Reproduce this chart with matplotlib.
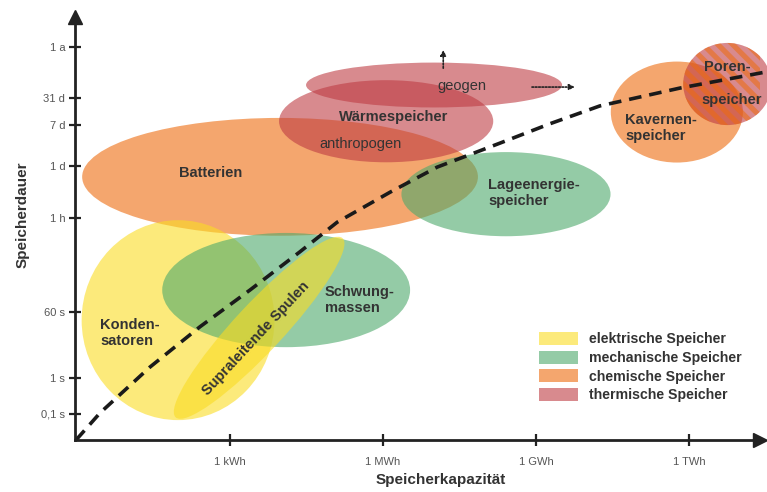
import matplotlib
matplotlib.use("Agg")
import numpy as np
import matplotlib.pyplot as plt
from matplotlib.patches import Ellipse, Patch

plt.rcParams["font.family"] = ["Liberation Sans", "DejaVu Sans"]

# x: log10 of capacity in Wh, y: position on the (non-uniform) duration axis
x_ticks = [3, 6, 9, 12]
x_labels = ["1 kWh", "1 MWh", "1 GWh", "1 TWh"]
y_ticks = [0.51, 1.22, 2.51, 4.35, 5.37, 6.18, 6.71, 7.71]
y_labels = ["0,1 s", "1 s", "60 s", "1 h", "1 d", "7 d", "31 d", "1 a"]

# storage technology regions
tech_group = ["chem", "elec", "mech", "mech", "therm", "therm", "chem", "elec", "therm"]
tech_x = [3.98, 1.98, 4.10, 8.41, 7.00, 6.06, 11.76, 3.57, 12.75]
tech_y = [5.16, 2.35, 2.94, 4.82, 6.96, 6.25, 6.43, 2.20, 6.98]
tech_w = [7.76, 3.78, 4.86, 4.10, 5.02, 4.20, 2.59, 4.80, 1.73]
tech_h = [2.31, 3.92, 2.24, 1.65, 0.88, 1.61, 1.98, 0.95, 1.61]
tech_angle = [0, 0, 0, 0, 0, 0, 0, 47, 0]

# dashed trend line through the diagram
trend_x = [-0.02, 0.45, 1.43, 2.41, 3.39, 4.37, 5.10, 6.14, 7.06, 8.29, 9.27, 10.25, 11.82, 13.53]
trend_y = [0.00, 0.53, 1.43, 2.22, 2.94, 3.69, 4.27, 4.86, 5.35, 5.82, 6.20, 6.55, 6.90, 7.22]

colors = {
    "elec": "#fadc23",
    "mech": "#4da96b",
    "chem": "#ed6b0d",
    "therm": "#be3c43",
}
legend_names = {
    "elec": "elektrische Speicher",
    "mech": "mechanische Speicher",
    "chem": "chemische Speicher",
    "therm": "thermische Speicher",
}
alpha = 0.6
txt = "#333333"

fig = plt.figure(figsize=(7.67, 4.92), dpi=100)
ax = fig.add_axes([0.0978, 0.1057, 0.8937, 0.8604])
ax.set_xlim(-0.04, 13.4)
ax.set_ylim(0, 8.3)

for g, cx, cy, w, h, a in zip(tech_group, tech_x, tech_y, tech_w, tech_h, tech_angle):
    e = Ellipse((cx, cy), w, h, angle=a, facecolor=colors[g], alpha=alpha,
                edgecolor="none", clip_on=False, zorder=2)
    ax.add_patch(e)

# Porenspeicher: diagonal orange stripes clipped to its ellipse
i = len(tech_x) - 1
clip = Ellipse((tech_x[i], tech_y[i]), tech_w[i], tech_h[i], facecolor="none",
               edgecolor="none", transform=ax.transData)
ax.add_patch(clip)
clip.set_clip_on(False)
span = tech_w[i]
for off in np.arange(-span, span, 0.29):
    xs = [tech_x[i] + off - span, tech_x[i] + off + span]
    ys = [tech_y[i] + span, tech_y[i] - span]
    ln, = ax.plot(xs, ys, color=colors["chem"], alpha=0.55, lw=3.8,
                  solid_capstyle="butt", zorder=2)
    ln.set_clip_path(clip)

ax.plot(trend_x, trend_y, color="#1a1a1a", lw=2.6, linestyle=(0, (3.5, 2.2)),
        zorder=3, clip_on=False, solid_capstyle="butt")

# labels
bold = dict(fontsize=10.5, fontweight="bold", color=txt, zorder=4)
ax.text(2.61, 5.24, "Batterien", ha="center", va="center", **bold)
ax.text(0.45, 2.10, "Konden-\nsatoren", ha="left", va="center", linespacing=1.2, **bold)
ax.text(4.86, 2.75, "Schwung-\nmassen", ha="left", va="center", linespacing=1.2, **bold)
ax.text(8.06, 4.84, "Lageenergie-\nspeicher", ha="left", va="center", linespacing=1.2, **bold)
ax.text(6.20, 6.33, "Wärmespeicher", ha="center", va="center", **bold)
ax.text(10.75, 6.12, "Kavernen-\nspeicher", ha="left", va="center", linespacing=1.2, **bold)
ax.text(12.75, 7.31, "Poren-", ha="center", va="center", **bold)
ax.text(12.84, 6.67, "speicher", ha="center", va="center", **bold)
ax.text(3.50, 2.00, "Supraleitende Spulen", ha="center", va="center", rotation=47,
        rotation_mode="anchor", **bold)
ax.text(5.55, 5.80, "anthropogen", ha="center", va="center", fontsize=10.5, color=txt, zorder=4)
ax.text(7.55, 6.94, "geogen", ha="center", va="center", fontsize=10.5, color=txt, zorder=4)

arrow = dict(arrowstyle="-|>", linestyle=(0, (1, 1)), color="#222222", lw=1.2,
             mutation_scale=8, shrinkA=0, shrinkB=0)
ax.annotate("", xy=(7.18, 7.65), xytext=(7.18, 7.29), arrowprops=arrow, zorder=4)
ax.annotate("", xy=(9.76, 6.92), xytext=(8.92, 6.92), arrowprops=arrow, zorder=4)

# axes with arrow heads
for s in ["top", "right"]:
    ax.spines[s].set_visible(False)
for s in ["left", "bottom"]:
    ax.spines[s].set_linewidth(2)
    ax.spines[s].set_color("#222222")
    ax.spines[s].set_zorder(5)
ax.plot(1, 0, ">", color="#222222", ms=10, transform=ax.transAxes, clip_on=False, zorder=6)
ax.plot(0, 1, "^", color="#222222", ms=10, transform=ax.transAxes, clip_on=False, zorder=6)

ax.set_xticks(x_ticks)
ax.set_xticklabels(x_labels)
ax.set_yticks(y_ticks)
ax.set_yticklabels(y_labels)
ax.tick_params(direction="inout", length=8, width=1.6, color="#222222",
               labelcolor="#555555", labelsize=8)
ax.tick_params(axis="x", pad=8)
ax.tick_params(axis="y", pad=3)

ax.set_xlabel("Speicherkapazität", fontsize=11, fontweight="bold", color=txt)
ax.xaxis.set_label_coords(0.533, -0.078)
ax.set_ylabel("Speicherdauer", fontsize=11, fontweight="bold", color=txt)
ax.yaxis.set_label_coords(-0.066, 0.532)

handles = [Patch(facecolor=colors[g], alpha=alpha, edgecolor="none") for g in colors]
ax.legend(handles, [legend_names[g] for g in colors], loc="upper left",
          bbox_to_anchor=(0.666, 0.272), frameon=False, handlelength=2.8,
          handleheight=1.05, labelspacing=0.3, handletextpad=0.75, borderpad=0,
          prop=dict(size=10.2, weight="bold"), labelcolor=txt)

fig.savefig("out.png", dpi=100)
